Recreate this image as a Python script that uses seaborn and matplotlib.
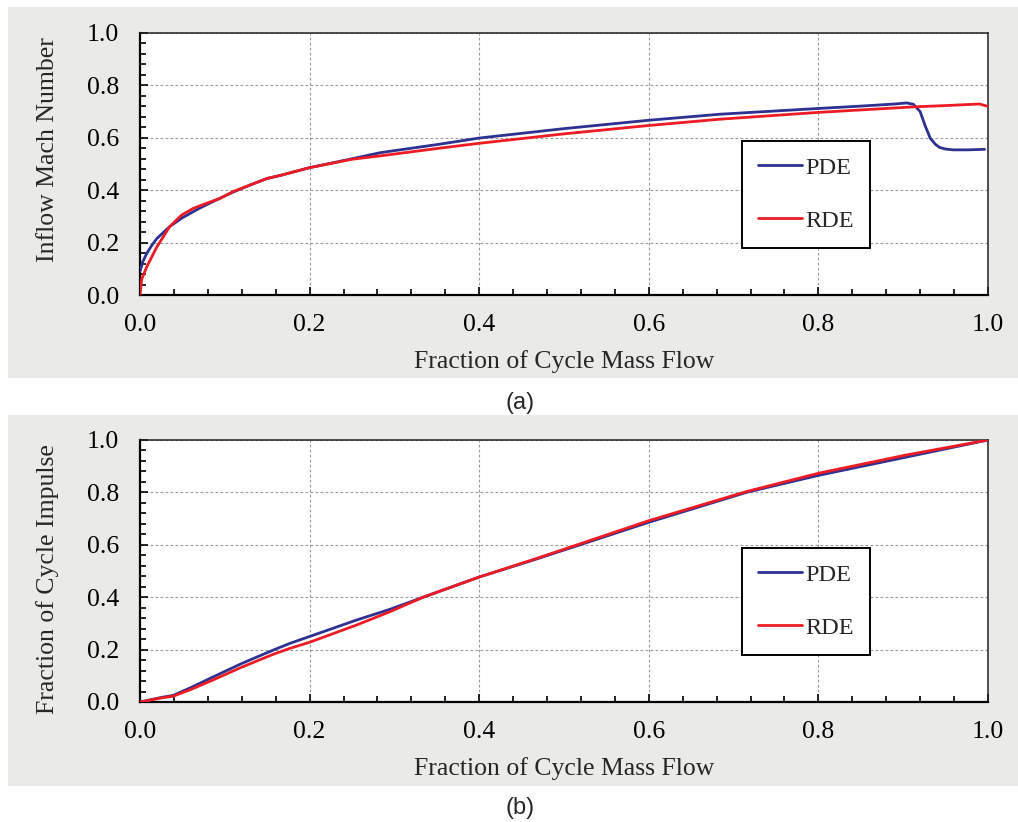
import numpy as np
import pandas as pd
import matplotlib
matplotlib.use("Agg")
import matplotlib.pyplot as plt
import seaborn as sns
from matplotlib.patches import Rectangle
from matplotlib.ticker import MultipleLocator, FormatStrFormatter

# ---- (a) inflow Mach number vs. fraction of cycle mass flow ----
mach_pde_x = [0.0, 0.003, 0.008, 0.014, 0.02, 0.035, 0.049, 0.07, 0.094, 0.11, 0.13,
              0.15, 0.165, 0.2, 0.25, 0.283, 0.3, 0.35, 0.4, 0.5, 0.6, 0.684, 0.8,
              0.85, 0.89, 0.904, 0.912, 0.92, 0.926, 0.932, 0.938, 0.943, 0.95,
              0.959, 0.975, 0.996]
mach_pde_y = [0.09, 0.125, 0.159, 0.19, 0.216, 0.261, 0.293, 0.331, 0.369, 0.393, 0.42,
              0.445, 0.456, 0.486, 0.52, 0.543, 0.551, 0.574, 0.599, 0.635, 0.667, 0.69, 0.712,
              0.721, 0.729, 0.733, 0.728, 0.70, 0.645, 0.598, 0.575, 0.563, 0.557,
              0.554, 0.554, 0.556]

mach_rde_x = [0.0, 0.002, 0.008, 0.02, 0.035, 0.049, 0.063, 0.08, 0.094, 0.11, 0.13,
              0.15, 0.165, 0.2, 0.25, 0.283, 0.3, 0.35, 0.4, 0.5, 0.6, 0.684, 0.8,
              0.912, 0.95, 0.99, 1.0]
mach_rde_y = [0.0, 0.06, 0.108, 0.184, 0.261, 0.305, 0.331, 0.352, 0.368, 0.395, 0.42,
              0.445, 0.456, 0.486, 0.518, 0.531, 0.538, 0.559, 0.579, 0.615, 0.647, 0.671, 0.697,
              0.718, 0.723, 0.729, 0.72]

# ---- (b) fraction of cycle impulse vs. fraction of cycle mass flow ----
imp_x = [0.0, 0.026, 0.039, 0.06, 0.0825, 0.12, 0.157, 0.177, 0.2, 0.2555, 0.295,
         0.334, 0.4, 0.464, 0.5, 0.6, 0.715, 0.8, 0.904, 1.0]
imp_pde_y = [0.0, 0.018, 0.025, 0.055, 0.090, 0.147, 0.198, 0.224, 0.250, 0.313, 0.354,
             0.400, 0.477, 0.542, 0.58, 0.686, 0.80, 0.865, 0.935, 1.0]
imp_rde_y = [0.0, 0.016, 0.022, 0.048, 0.079, 0.133, 0.182, 0.205, 0.228, 0.294, 0.345,
             0.400, 0.477, 0.544, 0.583, 0.692, 0.803, 0.873, 0.943, 1.0]

engines = ["PDE", "RDE"]
palette = {"PDE": "#2E3192", "RDE": "#ED1C24"}

df_mach = pd.concat([
    pd.DataFrame({"flow": mach_pde_x, "value": mach_pde_y, "engine": "PDE"}),
    pd.DataFrame({"flow": mach_rde_x, "value": mach_rde_y, "engine": "RDE"}),
], ignore_index=True)
df_imp = pd.concat([
    pd.DataFrame({"flow": imp_x, "value": imp_pde_y, "engine": "PDE"}),
    pd.DataFrame({"flow": imp_x, "value": imp_rde_y, "engine": "RDE"}),
], ignore_index=True)

sns.set_style("white")
plt.rcParams["font.family"] = ["Liberation Serif", "DejaVu Serif"]

W, H = 1018, 822
fig = plt.figure(figsize=(W / 100, H / 100), dpi=100)
fig.patch.set_facecolor("white")

# grey panel backgrounds
for top, bot in [(7, 378), (415, 786)]:
    fig.add_artist(Rectangle((8 / W, 1 - bot / H), 1 - 8 / W, (bot - top) / H,
                             transform=fig.transFigure, facecolor="#EAEAE8",
                             edgecolor="none", zorder=-5))

ax_a = fig.add_axes([140 / W, 1 - 295 / H, 848 / W, 262 / H])
ax_b = fig.add_axes([140 / W, 1 - 702 / H, 848 / W, 262 / H])


def draw(ax, df, ylabel, ylabel_pos):
    ax.set_facecolor("white")
    sns.lineplot(data=df, x="flow", y="value", hue="engine", hue_order=engines,
                 palette=palette, estimator=None, sort=False, linewidth=2.0,
                 ax=ax, zorder=3)
    ax.set_xlim(0, 1)
    ax.set_ylim(0, 1)
    for axis in (ax.xaxis, ax.yaxis):
        axis.set_major_locator(MultipleLocator(0.2))
        axis.set_minor_locator(MultipleLocator(0.04))
        axis.set_major_formatter(FormatStrFormatter("%.1f"))
    ax.tick_params(which="both", direction="in", top=False, right=False,
                   bottom=True, left=True, colors="black", width=1.2)
    ax.tick_params(which="major", length=6)
    ax.tick_params(which="minor", length=4.5)
    ax.tick_params(axis="x", pad=14, labelsize=18.5)
    ax.tick_params(axis="y", pad=15, labelsize=18.5)
    ax.grid(which="major", color="#9a9a9a", linestyle=(0, (2.5, 2)), linewidth=0.8)
    ax.set_axisbelow(True)
    for side in ("left", "bottom"):
        ax.spines[side].set_linewidth(1.6)
        ax.spines[side].set_color("black")
    for side in ("top", "right"):
        ax.spines[side].set_linewidth(1.1)
        ax.spines[side].set_color("#222222")
    ax.set_xlabel("Fraction of Cycle Mass Flow", fontsize=18.5)
    ax.set_ylabel(ylabel, fontsize=18.5)
    ax.xaxis.set_label_coords(0.5, -0.21)
    ax.yaxis.set_label_coords(-0.096, ylabel_pos)

    handles, labels = ax.get_legend_handles_labels()
    leg = ax.legend(handles, labels, loc="upper left", bbox_to_anchor=(0.71, 0.588),
                    borderaxespad=0, borderpad=0.65, labelspacing=1.28,
                    handlelength=1.8, handletextpad=0.15, fontsize=17.5,
                    frameon=True, fancybox=False, framealpha=1, edgecolor="black")
    leg.get_frame().set_linewidth(1.4)
    for ln in leg.get_lines():
        ln.set_linewidth(2.0)


draw(ax_a, df_mach, "Inflow Mach Number", 0.557)
draw(ax_b, df_imp, "Fraction of Cycle Impulse", 0.468)

fig.text(520 / W, 1 - 403 / H, "(a)", ha="center", va="center",
         family=["Liberation Sans", "DejaVu Sans"], fontsize=17)
fig.text(520 / W, 1 - 808 / H, "(b)", ha="center", va="center",
         family=["Liberation Sans", "DejaVu Sans"], fontsize=17)

fig.savefig("out.png", dpi=100)
